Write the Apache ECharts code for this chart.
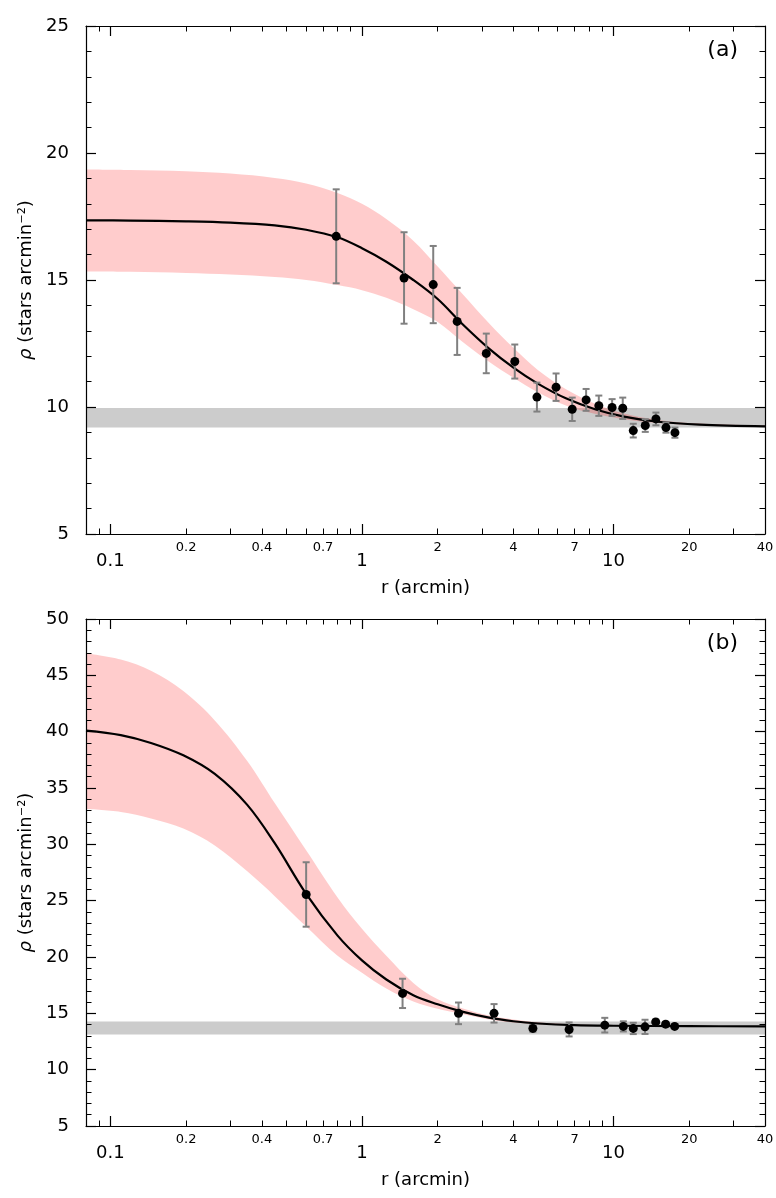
<!DOCTYPE html>
<html lang="en">
<head>
<meta charset="UTF-8">
<title>Radial density profiles</title>
<script src="https://cdn.jsdelivr.net/npm/echarts@6/dist/echarts.min.js"></script>
<style>
  html, body { margin: 0; padding: 0; background: #fff; }
  #chart { width: 776px; height: 1198px; }
</style>
</head>
<body>
<div id="chart"></div>
<script>
// ---- panel (a) observed profile ----
var rA   = [0.79, 1.47, 1.92, 2.39, 3.12, 4.05, 4.96, 5.91, 6.85, 7.78, 8.74, 9.87, 10.88, 11.98, 13.37, 14.74, 16.16, 17.54];
var rhoA = [16.72, 15.08, 14.82, 13.37, 12.11, 11.79, 10.39, 10.78, 9.91, 10.28, 10.05, 9.98, 9.95, 9.07, 9.27, 9.53, 9.19, 8.99];
var errA = [1.85, 1.80, 1.52, 1.32, 0.78, 0.67, 0.57, 0.54, 0.46, 0.43, 0.40, 0.33, 0.42, 0.27, 0.25, 0.25, 0.20, 0.20];
var bgA  = [9.19, 9.96];

// panel (a) fitted curve and its confidence band
var fitRA  = [0.08, 0.12, 0.2, 0.3, 0.45, 0.6, 0.8, 1.0, 1.25, 1.6, 2.0, 2.5, 3.2, 4.0, 5.0, 6.5, 8.5, 11, 15, 22, 40];
var fitA   = [17.35, 17.34, 17.31, 17.26, 17.15, 16.98, 16.68, 16.25, 15.72, 15.00, 14.25, 13.28, 12.30, 11.55, 10.92, 10.33, 9.90, 9.62, 9.42, 9.31, 9.24];
var upperA = [19.35, 19.33, 19.28, 19.19, 19.02, 18.80, 18.43, 18.00, 17.40, 16.55, 15.53, 14.47, 13.30, 12.33, 11.46, 10.69, 10.12, 9.74, 9.49, 9.35, 9.27];
var lowerA = [15.33, 15.32, 15.28, 15.22, 15.12, 15.00, 14.80, 14.60, 14.30, 13.85, 13.35, 12.58, 11.78, 11.15, 10.58, 10.05, 9.72, 9.52, 9.37, 9.28, 9.22];

// ---- panel (b) observed profile ----
var rB   = [0.60, 1.45, 2.42, 3.35, 4.78, 6.66, 9.23, 10.94, 11.98, 13.34, 14.71, 16.11, 17.5];
var rhoB = [25.55, 16.77, 15.00, 15.00, 13.66, 13.57, 13.95, 13.84, 13.66, 13.80, 14.24, 14.04, 13.84];
var errB = [2.86, 1.30, 0.96, 0.82, 0.30, 0.62, 0.65, 0.45, 0.50, 0.63, 0.20, 0.20, 0.15];
var bgB  = [13.13, 14.28];

var fitRB  = [0.08, 0.11, 0.145, 0.195, 0.26, 0.35, 0.45, 0.6, 0.8, 1.0, 1.25, 1.6, 2.0, 2.5, 3.2, 4.0, 5.0, 7.0, 10, 20, 40];
var fitB   = [40.10, 39.70, 39.00, 37.90, 36.25, 33.50, 30.10, 25.60, 21.90, 19.70, 18.00, 16.60, 15.80, 15.15, 14.62, 14.30, 14.10, 13.95, 13.90, 13.86, 13.85];
var upperB = [46.96, 46.40, 45.40, 43.60, 41.00, 37.40, 33.66, 29.47, 25.28, 22.50, 20.10, 17.70, 16.25, 15.45, 14.80, 14.45, 14.20, 14.00, 13.93, 13.87, 13.86];
var lowerB = [33.14, 32.88, 32.30, 31.40, 29.90, 27.60, 25.40, 22.70, 20.10, 18.60, 17.20, 16.05, 15.40, 14.93, 14.45, 14.18, 14.02, 13.92, 13.88, 13.85, 13.84];

// ---- axis ticks ----
var majorTicks  = [0.1, 1, 10];
var minorTicks  = [0.09, 0.2, 0.3, 0.4, 0.5, 0.6, 0.7, 0.8, 0.9, 2, 3, 4, 5, 6, 7, 8, 9, 20, 30, 40];
var minorLabels = [0.2, 0.4, 0.7, 2, 4, 7, 20, 40];
var xMinR = 0.08, xMaxR = 40;

var FONT = 'DejaVu Sans';
var lg = Math.log10;

function logs(arr) { return arr.map(function (v) { return lg(v); }); }
function fmtR(v) { return String(+Math.pow(10, v).toPrecision(2)); }

function xAxes(grid) {
  var base = {
    type: 'value', gridIndex: grid, min: lg(xMinR), max: lg(xMaxR), z: 10,
    splitLine: { show: false },
    axisLine: { show: false, lineStyle: { color: '#000', width: 1.2 } }
  };
  return [
    // bottom, major ticks + big labels + axis name
    Object.assign({}, base, {
      position: 'bottom',
      axisLine: { show: true, onZero: false, lineStyle: { color: '#000', width: 1.2 } },
      axisTick: { show: true, inside: true, length: 10, customValues: logs(majorTicks), lineStyle: { color: '#000', width: 1.2 } },
      axisLabel: { show: true, customValues: logs(majorTicks), formatter: fmtR, fontFamily: FONT, fontSize: 18, color: '#000', margin: 18, hideOverlap: false },
      name: 'r (arcmin)', nameLocation: 'middle', nameGap: 45,
      nameTextStyle: { fontFamily: FONT, fontSize: 18, color: '#000' }
    }),
    // bottom, minor ticks + small labels
    Object.assign({}, base, {
      position: 'bottom',
      axisTick: { show: true, inside: true, length: 5.5, customValues: logs(minorTicks), lineStyle: { color: '#000', width: 1 } },
      axisLabel: { show: true, customValues: logs(minorLabels), formatter: fmtR, fontFamily: FONT, fontSize: 13, color: '#000', margin: 7, hideOverlap: false, showMaxLabel: true, showMinLabel: true }
    }),
    // top mirror ticks
    Object.assign({}, base, {
      position: 'top',
      axisLine: { show: true, onZero: false, lineStyle: { color: '#000', width: 1.2 } },
      axisTick: { show: true, inside: true, length: 10, customValues: logs(majorTicks), lineStyle: { color: '#000', width: 1.2 } },
      axisLabel: { show: false }
    }),
    Object.assign({}, base, {
      position: 'top',
      axisTick: { show: true, inside: true, length: 5.5, customValues: logs(minorTicks), lineStyle: { color: '#000', width: 1 } },
      axisLabel: { show: false }
    })
  ];
}

function yAxes(grid, min, max) {
  var base = {
    type: 'value', gridIndex: grid, min: min, max: max, interval: 5, z: 10,
    splitLine: { show: false },
    axisLine: { show: true, onZero: false, lineStyle: { color: '#000', width: 1.2 } },
    axisTick: { show: true, inside: true, length: 10, lineStyle: { color: '#000', width: 1.2 } },
    minorTick: { show: true, splitNumber: 5, length: 5.5, lineStyle: { color: '#000', width: 1 } },
    minorSplitLine: { show: false }
  };
  return [
    Object.assign({}, base, {
      position: 'left',
      axisLabel: { fontFamily: FONT, fontSize: 18, color: '#000', margin: 17 },
      name: '{i|ρ} (stars arcmin⁻²)', nameLocation: 'middle', nameGap: 42,
      nameTextStyle: { fontFamily: FONT, fontSize: 18, color: '#000',
        rich: { i: { fontFamily: FONT, fontSize: 18, fontStyle: 'italic', color: '#000' } } }
    }),
    Object.assign({}, base, { position: 'right', axisLabel: { show: false } })
  ];
}

function errRender(params, api) {
  var x = api.value(0), y = api.value(1), e = api.value(2);
  var top = api.coord([x, y + e]);
  var bot = api.coord([x, y - e]);
  var w = 3.5;
  var st = { stroke: '#808080', lineWidth: 2 };
  return {
    type: 'group',
    children: [
      { type: 'line', shape: { x1: top[0], y1: top[1], x2: bot[0], y2: bot[1] }, style: st },
      { type: 'line', shape: { x1: top[0] - w, y1: top[1], x2: top[0] + w, y2: top[1] }, style: st },
      { type: 'line', shape: { x1: bot[0] - w, y1: bot[1], x2: bot[0] + w, y2: bot[1] }, style: st }
    ]
  };
}

function panelSeries(xi, yi, r, rho, err, bg, fr, fit, up, lo, key) {
  var fx = logs(fr);
  // band rows are [rho, log r] so that the stacked dimension is rho
  return [
    { // background level band
      type: 'line', xAxisIndex: xi, yAxisIndex: yi, data: [], silent: true, z: 1,
      markArea: { silent: true, itemStyle: { color: '#cccccc' },
        data: [[{ yAxis: bg[0] }, { yAxis: bg[1] }]] }
    },
    { // lower edge of confidence band (invisible)
      type: 'line', xAxisIndex: xi, yAxisIndex: yi, stack: key, smooth: 0.35, showSymbol: false,
      symbol: 'none', lineStyle: { width: 0, opacity: 0 }, z: 2, silent: true,
      encode: { x: 1, y: 0 },
      data: fx.map(function (v, i) { return [lo[i], v]; })
    },
    { // band thickness
      type: 'line', xAxisIndex: xi, yAxisIndex: yi, stack: key, smooth: 0.35, showSymbol: false,
      symbol: 'none', lineStyle: { width: 0, opacity: 0 }, z: 2, silent: true,
      encode: { x: 1, y: 0 },
      areaStyle: { color: 'rgba(255,0,0,0.2)', opacity: 1 },
      data: fx.map(function (v, i) { return [up[i] - lo[i], v]; })
    },
    { // fitted profile
      type: 'line', xAxisIndex: xi, yAxisIndex: yi, smooth: 0.35, showSymbol: false, symbol: 'none',
      lineStyle: { color: '#000', width: 2.2 }, z: 3, silent: true,
      data: fx.map(function (v, i) { return [v, fit[i]]; })
    },
    { // error bars
      type: 'custom', xAxisIndex: xi, yAxisIndex: yi, renderItem: errRender, z: 4, silent: true,
      encode: { x: 0, y: 1 },
      data: r.map(function (v, i) { return [lg(v), rho[i], err[i]]; })
    },
    { // data points
      type: 'scatter', xAxisIndex: xi, yAxisIndex: yi, symbolSize: 9, z: 5, silent: true,
      itemStyle: { color: '#000', opacity: 1 },
      data: r.map(function (v, i) { return [lg(v), rho[i]]; })
    }
  ];
}

var option = {
  backgroundColor: '#fff',
  animation: false,
  textStyle: { fontFamily: FONT },
  title: [
    { text: '(a)', right: 33, top: 34, textStyle: { fontFamily: FONT, fontSize: 22, fontWeight: 'normal', color: '#000' } },
    { text: '(b)', right: 33, top: 627, textStyle: { fontFamily: FONT, fontSize: 22, fontWeight: 'normal', color: '#000' } }
  ],
  grid: [
    { left: 86, top: 26, width: 679, height: 508, outerBoundsMode: 'none', containLabel: false },
    { left: 86, top: 619, width: 679, height: 507, outerBoundsMode: 'none', containLabel: false }
  ],
  xAxis: xAxes(0).concat(xAxes(1)),
  yAxis: yAxes(0, 5, 25).concat(yAxes(1, 5, 50)),
  series: panelSeries(0, 0, rA, rhoA, errA, bgA, fitRA, fitA, upperA, lowerA, 'bandA')
    .concat(panelSeries(4, 2, rB, rhoB, errB, bgB, fitRB, fitB, upperB, lowerB, 'bandB'))
};

var myChart = echarts.init(document.getElementById('chart'));
myChart.setOption(option);
</script>
</body>
</html>
